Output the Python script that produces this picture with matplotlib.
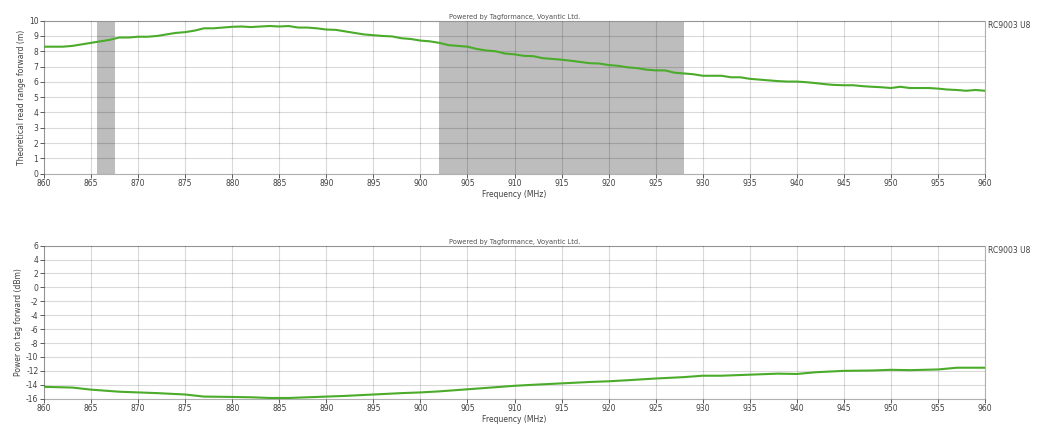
import matplotlib
matplotlib.use("Agg")
import matplotlib.pyplot as plt

plt.rcParams["axes.unicode_minus"] = False

# frequency points (MHz), 1 MHz steps
freq = list(range(860, 961))

read_range = [8.3, 8.3, 8.3, 8.35, 8.45, 8.55, 8.65, 8.75, 8.9, 8.9,
              8.95, 8.95, 9.0, 9.1, 9.2, 9.25, 9.35, 9.5, 9.5, 9.55,
              9.6, 9.62, 9.58, 9.62, 9.65, 9.62, 9.65, 9.55, 9.55, 9.5,
              9.42, 9.4, 9.3, 9.2, 9.1, 9.05, 9.0, 8.97, 8.85, 8.8,
              8.7, 8.65, 8.55, 8.4, 8.35, 8.3, 8.15, 8.05, 8.0, 7.85,
              7.8, 7.7, 7.68, 7.55, 7.5, 7.45, 7.38, 7.3, 7.22, 7.2,
              7.1, 7.05, 6.95, 6.9, 6.8, 6.75, 6.75, 6.6, 6.55, 6.5,
              6.4, 6.4, 6.4, 6.3, 6.3, 6.2, 6.15, 6.1, 6.05, 6.02,
              6.02, 5.98, 5.92, 5.85, 5.8, 5.78, 5.78, 5.72, 5.68, 5.65,
              5.6, 5.68, 5.6, 5.6, 5.6, 5.56, 5.5, 5.47, 5.42, 5.47,
              5.42]

power_freq = [860, 863, 865, 868, 870, 872, 875, 877, 880, 882, 884, 886,
              888, 890, 892, 895, 898, 900, 902, 905, 908, 910, 912, 915,
              918, 920, 922, 925, 928, 930, 932, 935, 938, 940, 942, 945,
              948, 950, 952, 955, 957, 960]
power = [-14.3, -14.4, -14.7, -15.0, -15.1, -15.2, -15.4, -15.7, -15.75,
         -15.8, -15.9, -15.9, -15.8, -15.7, -15.6, -15.4, -15.2, -15.1,
         -14.95, -14.65, -14.35, -14.15, -14.0, -13.8, -13.6, -13.5, -13.35,
         -13.1, -12.9, -12.7, -12.7, -12.55, -12.4, -12.45, -12.2, -12.0,
         -11.95, -11.85, -11.9, -11.8, -11.55, -11.55]

shaded = [(865.6, 867.5), (902.0, 928.0)]

green = "#4bab2a"
fs = 5.5

fig = plt.figure(figsize=(10.5, 4.36), dpi=100)
ax1 = fig.add_axes([0.0419, 0.6016, 0.8962, 0.351])
ax2 = fig.add_axes([0.0419, 0.0856, 0.8962, 0.351])

for ax in (ax1, ax2):
    ax.set_xlim(860, 960)
    ax.set_xticks(range(860, 961, 5))
    # translucent grid so it shows darker over the grey bands
    ax.grid(True, color="black", alpha=0.15, linewidth=0.8)
    ax.set_axisbelow(False)
    for s in ax.spines.values():
        s.set_color("#b0b0b0")
        s.set_linewidth(0.8)
    ax.tick_params(labelsize=fs, colors="#404040", length=3, width=0.6, pad=1)
    ax.set_xlabel("Frequency (MHz)", fontsize=fs, color="#404040", labelpad=1)
    ax.text(0.5, 1.005, "Powered by Tagformance, Voyantic Ltd.",
            transform=ax.transAxes, ha="center", va="bottom",
            fontsize=4.8, color="#505050")
    ax.text(1.003, 0.97, "RC9003 U8", transform=ax.transAxes, ha="left",
            va="center", fontsize=fs, color="#404040")

for lo, hi in shaded:
    ax1.axvspan(lo, hi, color="#bdbdbd", zorder=0.5, linewidth=0)
ax1.plot(freq, read_range, color=green, linewidth=1.5, zorder=3)
ax1.set_ylim(0, 10)
ax1.set_yticks(range(0, 11))
ax1.set_ylabel("Theoretical read range forward (m)", fontsize=fs,
               color="#404040", labelpad=2)

ax2.plot(power_freq, power, color=green, linewidth=1.5, zorder=3)
ax2.set_ylim(-16, 6)
ax2.set_yticks(range(-16, 7, 2))
ax2.set_ylabel("Power on tag forward (dBm)", fontsize=fs,
               color="#404040", labelpad=2)

plt.savefig("out.png", dpi=100)
